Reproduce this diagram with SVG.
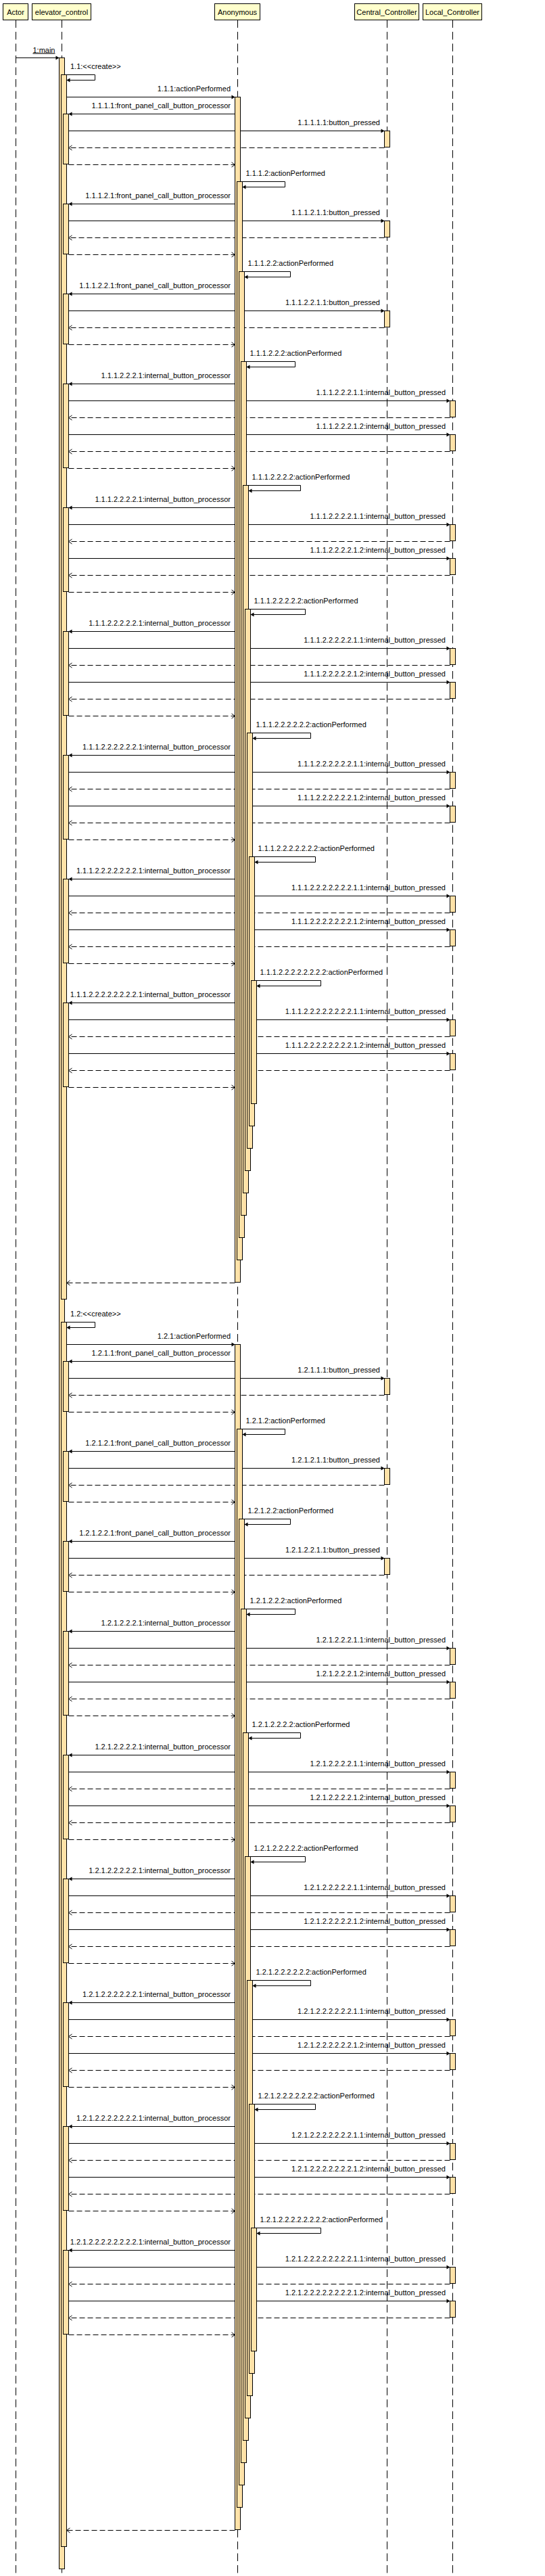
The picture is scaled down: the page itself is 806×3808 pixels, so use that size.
<svg xmlns="http://www.w3.org/2000/svg" width="806" height="3808" viewBox="0 0 806 3808">
<style>
text{font-family:"Liberation Sans",Arial,sans-serif;font-size:11px;fill:#000}
.r{text-anchor:end}
.c{text-anchor:middle}
.msg{stroke:#000;stroke-width:1;fill:none;marker-end:url(#ah)}
.ret{stroke:#000;stroke-width:1;fill:none;stroke-dasharray:8 4;marker-end:url(#oh)}
.life{stroke:#000;stroke-width:1;stroke-dasharray:11.5 6}
.act{fill:#FFE2A8;stroke:#000;stroke-width:1}
.hdr{fill:#FFFFCC;stroke:#000;stroke-width:1}
</style>
<defs>
<marker id="ah" markerUnits="userSpaceOnUse" markerWidth="8" markerHeight="8" refX="5" refY="3" orient="auto" overflow="visible"><path d="M0,0 L5,3 L0,6 z" fill="#000" stroke="none"/></marker>
<marker id="oh" markerUnits="userSpaceOnUse" markerWidth="8" markerHeight="8" refX="5" refY="3.5" orient="auto" overflow="visible"><path d="M0,0 L5,3.5 L0,7" fill="none" stroke="#000" stroke-width="1" stroke-dasharray="none"/></marker>
</defs>
<rect width="806" height="3808" fill="#fff"/>
<g id="lifelines">
<line class="life" x1="23.5" y1="29.5" x2="23.5" y2="3806"/>
<line class="life" x1="91.5" y1="29.5" x2="91.5" y2="3806"/>
<line class="life" x1="351.5" y1="29.5" x2="351.5" y2="3806"/>
<line class="life" x1="572.5" y1="29.5" x2="572.5" y2="3806"/>
<line class="life" x1="669.5" y1="29.5" x2="669.5" y2="3806"/>
</g>
<g id="connectors">
<line class="msg" x1="23.5" y1="85.5" x2="87.5" y2="85.5"/>
<text class="r" x="81.5" y="77.5" text-decoration="underline">1:main</text>
<!-- section 1 -->
<polyline class="msg" points="95.5,110.5 140.5,110.5 140.5,118.5 98.5,118.5"/>
<text x="104" y="102">1.1:&lt;&lt;create&gt;&gt;</text>
<line class="msg" x1="98.5" y1="143.5" x2="347.5" y2="143.5"/>
<text class="r" x="341" y="134.5">1.1.1:actionPerformed</text>
<line class="msg" x1="347.5" y1="168.5" x2="101.5" y2="168.5"/>
<text class="r" x="341" y="159.5">1.1.1.1:front_panel_call_button_processor</text>
<line class="msg" x1="101.5" y1="193.5" x2="568.5" y2="193.5"/>
<text class="r" x="562" y="184.5">1.1.1.1.1:button_pressed</text>
<line class="ret" x1="568.5" y1="218.5" x2="101.5" y2="218.5"/>
<line class="ret" x1="101.5" y1="243.5" x2="347.5" y2="243.5"/>
<!-- k2 -->
<polyline class="msg" points="355.5,268.5 421.5,268.5 421.5,276.5 358.5,276.5"/>
<text x="363.5" y="259.5">1.1.1.2:actionPerformed</text>
<line class="msg" x1="347.5" y1="301.5" x2="101.5" y2="301.5"/>
<text class="r" x="341" y="292.5">1.1.1.2.1:front_panel_call_button_processor</text>
<line class="msg" x1="101.5" y1="326.5" x2="568.5" y2="326.5"/>
<text class="r" x="562" y="317.5">1.1.1.2.1.1:button_pressed</text>
<line class="ret" x1="568.5" y1="351.5" x2="101.5" y2="351.5"/>
<line class="ret" x1="101.5" y1="376.5" x2="347.5" y2="376.5"/>
<!-- k3 -->
<polyline class="msg" points="358.5,401.5 429.5,401.5 429.5,409.5 361.5,409.5"/>
<text x="366.5" y="392.5">1.1.1.2.2:actionPerformed</text>
<line class="msg" x1="347.5" y1="434.5" x2="101.5" y2="434.5"/>
<text class="r" x="341" y="425.5">1.1.1.2.2.1:front_panel_call_button_processor</text>
<line class="msg" x1="101.5" y1="459.5" x2="568.5" y2="459.5"/>
<text class="r" x="562" y="450.5">1.1.1.2.2.1.1:button_pressed</text>
<line class="ret" x1="568.5" y1="484.5" x2="101.5" y2="484.5"/>
<line class="ret" x1="101.5" y1="509.5" x2="347.5" y2="509.5"/>
<!-- k4 -->
<polyline class="msg" points="361.5,534.5 436.5,534.5 436.5,542.5 364.5,542.5"/>
<text x="369.5" y="525.5">1.1.1.2.2.2:actionPerformed</text>
<line class="msg" x1="347.5" y1="567.5" x2="101.5" y2="567.5"/>
<text class="r" x="341" y="558.5">1.1.1.2.2.2.1:internal_button_processor</text>
<line class="msg" x1="101.5" y1="592.5" x2="665.5" y2="592.5"/>
<text class="r" x="659" y="583.5">1.1.1.2.2.2.1.1:internal_button_pressed</text>
<line class="ret" x1="665.5" y1="617.5" x2="101.5" y2="617.5"/>
<line class="msg" x1="101.5" y1="642.5" x2="665.5" y2="642.5"/>
<text class="r" x="659" y="633.5">1.1.1.2.2.2.1.2:internal_button_pressed</text>
<line class="ret" x1="665.5" y1="667.5" x2="101.5" y2="667.5"/>
<line class="ret" x1="101.5" y1="692.5" x2="347.5" y2="692.5"/>
<!-- k5 -->
<polyline class="msg" points="364.5,717.5 444.5,717.5 444.5,725.5 367.5,725.5"/>
<text x="372.5" y="708.5">1.1.1.2.2.2.2:actionPerformed</text>
<line class="msg" x1="347.5" y1="750.5" x2="101.5" y2="750.5"/>
<text class="r" x="341" y="741.5">1.1.1.2.2.2.2.1:internal_button_processor</text>
<line class="msg" x1="101.5" y1="775.5" x2="665.5" y2="775.5"/>
<text class="r" x="659" y="766.5">1.1.1.2.2.2.2.1.1:internal_button_pressed</text>
<line class="ret" x1="665.5" y1="800.5" x2="101.5" y2="800.5"/>
<line class="msg" x1="101.5" y1="825.5" x2="665.5" y2="825.5"/>
<text class="r" x="659" y="816.5">1.1.1.2.2.2.2.1.2:internal_button_pressed</text>
<line class="ret" x1="665.5" y1="850.5" x2="101.5" y2="850.5"/>
<line class="ret" x1="101.5" y1="875.5" x2="347.5" y2="875.5"/>
<!-- k6 -->
<polyline class="msg" points="367.5,900.5 451.5,900.5 451.5,908.5 370.5,908.5"/>
<text x="375.5" y="891.5">1.1.1.2.2.2.2.2:actionPerformed</text>
<line class="msg" x1="347.5" y1="933.5" x2="101.5" y2="933.5"/>
<text class="r" x="341" y="924.5">1.1.1.2.2.2.2.2.1:internal_button_processor</text>
<line class="msg" x1="101.5" y1="958.5" x2="665.5" y2="958.5"/>
<text class="r" x="659" y="949.5">1.1.1.2.2.2.2.2.1.1:internal_button_pressed</text>
<line class="ret" x1="665.5" y1="983.5" x2="101.5" y2="983.5"/>
<line class="msg" x1="101.5" y1="1008.5" x2="665.5" y2="1008.5"/>
<text class="r" x="659" y="999.5">1.1.1.2.2.2.2.2.1.2:internal_button_pressed</text>
<line class="ret" x1="665.5" y1="1033.5" x2="101.5" y2="1033.5"/>
<line class="ret" x1="101.5" y1="1058.5" x2="347.5" y2="1058.5"/>
<!-- k7 -->
<polyline class="msg" points="370.5,1083.5 459.5,1083.5 459.5,1091.5 373.5,1091.5"/>
<text x="378.5" y="1074.5">1.1.1.2.2.2.2.2.2:actionPerformed</text>
<line class="msg" x1="347.5" y1="1116.5" x2="101.5" y2="1116.5"/>
<text class="r" x="341" y="1107.5">1.1.1.2.2.2.2.2.2.1:internal_button_processor</text>
<line class="msg" x1="101.5" y1="1141.5" x2="665.5" y2="1141.5"/>
<text class="r" x="659" y="1132.5">1.1.1.2.2.2.2.2.2.1.1:internal_button_pressed</text>
<line class="ret" x1="665.5" y1="1166.5" x2="101.5" y2="1166.5"/>
<line class="msg" x1="101.5" y1="1191.5" x2="665.5" y2="1191.5"/>
<text class="r" x="659" y="1182.5">1.1.1.2.2.2.2.2.2.1.2:internal_button_pressed</text>
<line class="ret" x1="665.5" y1="1216.5" x2="101.5" y2="1216.5"/>
<line class="ret" x1="101.5" y1="1241.5" x2="347.5" y2="1241.5"/>
<!-- k8 -->
<polyline class="msg" points="373.5,1266.5 466.5,1266.5 466.5,1274.5 376.5,1274.5"/>
<text x="381.5" y="1257.5">1.1.1.2.2.2.2.2.2.2:actionPerformed</text>
<line class="msg" x1="347.5" y1="1299.5" x2="101.5" y2="1299.5"/>
<text class="r" x="341" y="1290.5">1.1.1.2.2.2.2.2.2.2.1:internal_button_processor</text>
<line class="msg" x1="101.5" y1="1324.5" x2="665.5" y2="1324.5"/>
<text class="r" x="659" y="1315.5">1.1.1.2.2.2.2.2.2.2.1.1:internal_button_pressed</text>
<line class="ret" x1="665.5" y1="1349.5" x2="101.5" y2="1349.5"/>
<line class="msg" x1="101.5" y1="1374.5" x2="665.5" y2="1374.5"/>
<text class="r" x="659" y="1365.5">1.1.1.2.2.2.2.2.2.2.1.2:internal_button_pressed</text>
<line class="ret" x1="665.5" y1="1399.5" x2="101.5" y2="1399.5"/>
<line class="ret" x1="101.5" y1="1424.5" x2="347.5" y2="1424.5"/>
<!-- k9 -->
<polyline class="msg" points="376.5,1449.5 474.5,1449.5 474.5,1457.5 379.5,1457.5"/>
<text x="384.5" y="1440.5">1.1.1.2.2.2.2.2.2.2.2:actionPerformed</text>
<line class="msg" x1="347.5" y1="1482.5" x2="101.5" y2="1482.5"/>
<text class="r" x="341" y="1473.5">1.1.1.2.2.2.2.2.2.2.2.1:internal_button_processor</text>
<line class="msg" x1="101.5" y1="1507.5" x2="665.5" y2="1507.5"/>
<text class="r" x="659" y="1498.5">1.1.1.2.2.2.2.2.2.2.2.1.1:internal_button_pressed</text>
<line class="ret" x1="665.5" y1="1532.5" x2="101.5" y2="1532.5"/>
<line class="msg" x1="101.5" y1="1557.5" x2="665.5" y2="1557.5"/>
<text class="r" x="659" y="1548.5">1.1.1.2.2.2.2.2.2.2.2.1.2:internal_button_pressed</text>
<line class="ret" x1="665.5" y1="1582.5" x2="101.5" y2="1582.5"/>
<line class="ret" x1="101.5" y1="1607.5" x2="347.5" y2="1607.5"/>
<line class="ret" x1="347.5" y1="1896.5" x2="98.5" y2="1896.5"/>
<!-- section 2 -->
<polyline class="msg" points="95.5,1954.5 140.5,1954.5 140.5,1962.5 98.5,1962.5"/>
<text x="104" y="1946">1.2:&lt;&lt;create&gt;&gt;</text>
<line class="msg" x1="98.5" y1="1987.5" x2="347.5" y2="1987.5"/>
<text class="r" x="341" y="1978.5">1.2.1:actionPerformed</text>
<line class="msg" x1="347.5" y1="2012.5" x2="101.5" y2="2012.5"/>
<text class="r" x="341" y="2003.5">1.2.1.1:front_panel_call_button_processor</text>
<line class="msg" x1="101.5" y1="2037.5" x2="568.5" y2="2037.5"/>
<text class="r" x="562" y="2028.5">1.2.1.1.1:button_pressed</text>
<line class="ret" x1="568.5" y1="2062.5" x2="101.5" y2="2062.5"/>
<line class="ret" x1="101.5" y1="2087.5" x2="347.5" y2="2087.5"/>
<!-- k2 -->
<polyline class="msg" points="355.5,2112.5 421.5,2112.5 421.5,2120.5 358.5,2120.5"/>
<text x="363.5" y="2103.5">1.2.1.2:actionPerformed</text>
<line class="msg" x1="347.5" y1="2145.5" x2="101.5" y2="2145.5"/>
<text class="r" x="341" y="2136.5">1.2.1.2.1:front_panel_call_button_processor</text>
<line class="msg" x1="101.5" y1="2170.5" x2="568.5" y2="2170.5"/>
<text class="r" x="562" y="2161.5">1.2.1.2.1.1:button_pressed</text>
<line class="ret" x1="568.5" y1="2195.5" x2="101.5" y2="2195.5"/>
<line class="ret" x1="101.5" y1="2220.5" x2="347.5" y2="2220.5"/>
<!-- k3 -->
<polyline class="msg" points="358.5,2245.5 429.5,2245.5 429.5,2253.5 361.5,2253.5"/>
<text x="366.5" y="2236.5">1.2.1.2.2:actionPerformed</text>
<line class="msg" x1="347.5" y1="2278.5" x2="101.5" y2="2278.5"/>
<text class="r" x="341" y="2269.5">1.2.1.2.2.1:front_panel_call_button_processor</text>
<line class="msg" x1="101.5" y1="2303.5" x2="568.5" y2="2303.5"/>
<text class="r" x="562" y="2294.5">1.2.1.2.2.1.1:button_pressed</text>
<line class="ret" x1="568.5" y1="2328.5" x2="101.5" y2="2328.5"/>
<line class="ret" x1="101.5" y1="2353.5" x2="347.5" y2="2353.5"/>
<!-- k4 -->
<polyline class="msg" points="361.5,2378.5 436.5,2378.5 436.5,2386.5 364.5,2386.5"/>
<text x="369.5" y="2369.5">1.2.1.2.2.2:actionPerformed</text>
<line class="msg" x1="347.5" y1="2411.5" x2="101.5" y2="2411.5"/>
<text class="r" x="341" y="2402.5">1.2.1.2.2.2.1:internal_button_processor</text>
<line class="msg" x1="101.5" y1="2436.5" x2="665.5" y2="2436.5"/>
<text class="r" x="659" y="2427.5">1.2.1.2.2.2.1.1:internal_button_pressed</text>
<line class="ret" x1="665.5" y1="2461.5" x2="101.5" y2="2461.5"/>
<line class="msg" x1="101.5" y1="2486.5" x2="665.5" y2="2486.5"/>
<text class="r" x="659" y="2477.5">1.2.1.2.2.2.1.2:internal_button_pressed</text>
<line class="ret" x1="665.5" y1="2511.5" x2="101.5" y2="2511.5"/>
<line class="ret" x1="101.5" y1="2536.5" x2="347.5" y2="2536.5"/>
<!-- k5 -->
<polyline class="msg" points="364.5,2561.5 444.5,2561.5 444.5,2569.5 367.5,2569.5"/>
<text x="372.5" y="2552.5">1.2.1.2.2.2.2:actionPerformed</text>
<line class="msg" x1="347.5" y1="2594.5" x2="101.5" y2="2594.5"/>
<text class="r" x="341" y="2585.5">1.2.1.2.2.2.2.1:internal_button_processor</text>
<line class="msg" x1="101.5" y1="2619.5" x2="665.5" y2="2619.5"/>
<text class="r" x="659" y="2610.5">1.2.1.2.2.2.2.1.1:internal_button_pressed</text>
<line class="ret" x1="665.5" y1="2644.5" x2="101.5" y2="2644.5"/>
<line class="msg" x1="101.5" y1="2669.5" x2="665.5" y2="2669.5"/>
<text class="r" x="659" y="2660.5">1.2.1.2.2.2.2.1.2:internal_button_pressed</text>
<line class="ret" x1="665.5" y1="2694.5" x2="101.5" y2="2694.5"/>
<line class="ret" x1="101.5" y1="2719.5" x2="347.5" y2="2719.5"/>
<!-- k6 -->
<polyline class="msg" points="367.5,2744.5 451.5,2744.5 451.5,2752.5 370.5,2752.5"/>
<text x="375.5" y="2735.5">1.2.1.2.2.2.2.2:actionPerformed</text>
<line class="msg" x1="347.5" y1="2777.5" x2="101.5" y2="2777.5"/>
<text class="r" x="341" y="2768.5">1.2.1.2.2.2.2.2.1:internal_button_processor</text>
<line class="msg" x1="101.5" y1="2802.5" x2="665.5" y2="2802.5"/>
<text class="r" x="659" y="2793.5">1.2.1.2.2.2.2.2.1.1:internal_button_pressed</text>
<line class="ret" x1="665.5" y1="2827.5" x2="101.5" y2="2827.5"/>
<line class="msg" x1="101.5" y1="2852.5" x2="665.5" y2="2852.5"/>
<text class="r" x="659" y="2843.5">1.2.1.2.2.2.2.2.1.2:internal_button_pressed</text>
<line class="ret" x1="665.5" y1="2877.5" x2="101.5" y2="2877.5"/>
<line class="ret" x1="101.5" y1="2902.5" x2="347.5" y2="2902.5"/>
<!-- k7 -->
<polyline class="msg" points="370.5,2927.5 459.5,2927.5 459.5,2935.5 373.5,2935.5"/>
<text x="378.5" y="2918.5">1.2.1.2.2.2.2.2.2:actionPerformed</text>
<line class="msg" x1="347.5" y1="2960.5" x2="101.5" y2="2960.5"/>
<text class="r" x="341" y="2951.5">1.2.1.2.2.2.2.2.2.1:internal_button_processor</text>
<line class="msg" x1="101.5" y1="2985.5" x2="665.5" y2="2985.5"/>
<text class="r" x="659" y="2976.5">1.2.1.2.2.2.2.2.2.1.1:internal_button_pressed</text>
<line class="ret" x1="665.5" y1="3010.5" x2="101.5" y2="3010.5"/>
<line class="msg" x1="101.5" y1="3035.5" x2="665.5" y2="3035.5"/>
<text class="r" x="659" y="3026.5">1.2.1.2.2.2.2.2.2.1.2:internal_button_pressed</text>
<line class="ret" x1="665.5" y1="3060.5" x2="101.5" y2="3060.5"/>
<line class="ret" x1="101.5" y1="3085.5" x2="347.5" y2="3085.5"/>
<!-- k8 -->
<polyline class="msg" points="373.5,3110.5 466.5,3110.5 466.5,3118.5 376.5,3118.5"/>
<text x="381.5" y="3101.5">1.2.1.2.2.2.2.2.2.2:actionPerformed</text>
<line class="msg" x1="347.5" y1="3143.5" x2="101.5" y2="3143.5"/>
<text class="r" x="341" y="3134.5">1.2.1.2.2.2.2.2.2.2.1:internal_button_processor</text>
<line class="msg" x1="101.5" y1="3168.5" x2="665.5" y2="3168.5"/>
<text class="r" x="659" y="3159.5">1.2.1.2.2.2.2.2.2.2.1.1:internal_button_pressed</text>
<line class="ret" x1="665.5" y1="3193.5" x2="101.5" y2="3193.5"/>
<line class="msg" x1="101.5" y1="3218.5" x2="665.5" y2="3218.5"/>
<text class="r" x="659" y="3209.5">1.2.1.2.2.2.2.2.2.2.1.2:internal_button_pressed</text>
<line class="ret" x1="665.5" y1="3243.5" x2="101.5" y2="3243.5"/>
<line class="ret" x1="101.5" y1="3268.5" x2="347.5" y2="3268.5"/>
<!-- k9 -->
<polyline class="msg" points="376.5,3293.5 474.5,3293.5 474.5,3301.5 379.5,3301.5"/>
<text x="384.5" y="3284.5">1.2.1.2.2.2.2.2.2.2.2:actionPerformed</text>
<line class="msg" x1="347.5" y1="3326.5" x2="101.5" y2="3326.5"/>
<text class="r" x="341" y="3317.5">1.2.1.2.2.2.2.2.2.2.2.1:internal_button_processor</text>
<line class="msg" x1="101.5" y1="3351.5" x2="665.5" y2="3351.5"/>
<text class="r" x="659" y="3342.5">1.2.1.2.2.2.2.2.2.2.2.1.1:internal_button_pressed</text>
<line class="ret" x1="665.5" y1="3376.5" x2="101.5" y2="3376.5"/>
<line class="msg" x1="101.5" y1="3401.5" x2="665.5" y2="3401.5"/>
<text class="r" x="659" y="3392.5">1.2.1.2.2.2.2.2.2.2.2.1.2:internal_button_pressed</text>
<line class="ret" x1="665.5" y1="3426.5" x2="101.5" y2="3426.5"/>
<line class="ret" x1="101.5" y1="3451.5" x2="347.5" y2="3451.5"/>
<line class="ret" x1="347.5" y1="3740.5" x2="98.5" y2="3740.5"/>
</g>
<g id="node-actor">
<rect class="hdr" x="4.5" y="5.5" width="37" height="24"/>
<text class="c" x="23" y="21.5">Actor</text>
</g>
<g id="node-elevator_control">
<rect class="hdr" x="47.5" y="5.5" width="87" height="24"/>
<text class="c" x="91" y="21.5">elevator_control</text>
<rect class="act" x="87.5" y="85.5" width="8" height="3712"/>
<rect class="act" x="90.5" y="110.5" width="8" height="1810"/>
<rect class="act" x="93.5" y="168.5" width="8" height="74"/>
<rect class="act" x="93.5" y="301.5" width="8" height="74"/>
<rect class="act" x="93.5" y="434.5" width="8" height="74"/>
<rect class="act" x="93.5" y="567.5" width="8" height="124"/>
<rect class="act" x="93.5" y="750.5" width="8" height="124"/>
<rect class="act" x="93.5" y="933.5" width="8" height="124"/>
<rect class="act" x="93.5" y="1116.5" width="8" height="124"/>
<rect class="act" x="93.5" y="1299.5" width="8" height="124"/>
<rect class="act" x="93.5" y="1482.5" width="8" height="124"/>
<rect class="act" x="90.5" y="1954.5" width="8" height="1810"/>
<rect class="act" x="93.5" y="2012.5" width="8" height="74"/>
<rect class="act" x="93.5" y="2145.5" width="8" height="74"/>
<rect class="act" x="93.5" y="2278.5" width="8" height="74"/>
<rect class="act" x="93.5" y="2411.5" width="8" height="124"/>
<rect class="act" x="93.5" y="2594.5" width="8" height="124"/>
<rect class="act" x="93.5" y="2777.5" width="8" height="124"/>
<rect class="act" x="93.5" y="2960.5" width="8" height="124"/>
<rect class="act" x="93.5" y="3143.5" width="8" height="124"/>
<rect class="act" x="93.5" y="3326.5" width="8" height="124"/>
</g>
<g id="node-anonymous">
<rect class="hdr" x="317.5" y="5.5" width="67" height="24"/>
<text class="c" x="351" y="21.5">Anonymous</text>
<rect class="act" x="347.5" y="143.5" width="8" height="1752"/>
<rect class="act" x="350.5" y="268.5" width="8" height="1594"/>
<rect class="act" x="353.5" y="401.5" width="8" height="1428"/>
<rect class="act" x="356.5" y="534.5" width="8" height="1262"/>
<rect class="act" x="359.5" y="717.5" width="8" height="1046"/>
<rect class="act" x="362.5" y="900.5" width="8" height="830"/>
<rect class="act" x="365.5" y="1083.5" width="8" height="614"/>
<rect class="act" x="368.5" y="1266.5" width="8" height="398"/>
<rect class="act" x="371.5" y="1449.5" width="8" height="182"/>
<rect class="act" x="347.5" y="1987.5" width="8" height="1752"/>
<rect class="act" x="350.5" y="2112.5" width="8" height="1594"/>
<rect class="act" x="353.5" y="2245.5" width="8" height="1428"/>
<rect class="act" x="356.5" y="2378.5" width="8" height="1262"/>
<rect class="act" x="359.5" y="2561.5" width="8" height="1046"/>
<rect class="act" x="362.5" y="2744.5" width="8" height="830"/>
<rect class="act" x="365.5" y="2927.5" width="8" height="614"/>
<rect class="act" x="368.5" y="3110.5" width="8" height="398"/>
<rect class="act" x="371.5" y="3293.5" width="8" height="182"/>
</g>
<g id="node-central_controller">
<rect class="hdr" x="524.5" y="5.5" width="95" height="24"/>
<text class="c" x="572" y="21.5">Central_Controller</text>
<rect class="act" x="568.5" y="193.5" width="8" height="24"/>
<rect class="act" x="568.5" y="326.5" width="8" height="24"/>
<rect class="act" x="568.5" y="459.5" width="8" height="24"/>
<rect class="act" x="568.5" y="2037.5" width="8" height="24"/>
<rect class="act" x="568.5" y="2170.5" width="8" height="24"/>
<rect class="act" x="568.5" y="2303.5" width="8" height="24"/>
</g>
<g id="node-local_controller">
<rect class="hdr" x="625.5" y="5.5" width="87" height="24"/>
<text class="c" x="669" y="21.5">Local_Controller</text>
<rect class="act" x="665.5" y="592.5" width="8" height="24"/>
<rect class="act" x="665.5" y="642.5" width="8" height="24"/>
<rect class="act" x="665.5" y="775.5" width="8" height="24"/>
<rect class="act" x="665.5" y="825.5" width="8" height="24"/>
<rect class="act" x="665.5" y="958.5" width="8" height="24"/>
<rect class="act" x="665.5" y="1008.5" width="8" height="24"/>
<rect class="act" x="665.5" y="1141.5" width="8" height="24"/>
<rect class="act" x="665.5" y="1191.5" width="8" height="24"/>
<rect class="act" x="665.5" y="1324.5" width="8" height="24"/>
<rect class="act" x="665.5" y="1374.5" width="8" height="24"/>
<rect class="act" x="665.5" y="1507.5" width="8" height="24"/>
<rect class="act" x="665.5" y="1557.5" width="8" height="24"/>
<rect class="act" x="665.5" y="2436.5" width="8" height="24"/>
<rect class="act" x="665.5" y="2486.5" width="8" height="24"/>
<rect class="act" x="665.5" y="2619.5" width="8" height="24"/>
<rect class="act" x="665.5" y="2669.5" width="8" height="24"/>
<rect class="act" x="665.5" y="2802.5" width="8" height="24"/>
<rect class="act" x="665.5" y="2852.5" width="8" height="24"/>
<rect class="act" x="665.5" y="2985.5" width="8" height="24"/>
<rect class="act" x="665.5" y="3035.5" width="8" height="24"/>
<rect class="act" x="665.5" y="3168.5" width="8" height="24"/>
<rect class="act" x="665.5" y="3218.5" width="8" height="24"/>
<rect class="act" x="665.5" y="3351.5" width="8" height="24"/>
<rect class="act" x="665.5" y="3401.5" width="8" height="24"/>
</g>
</svg>
